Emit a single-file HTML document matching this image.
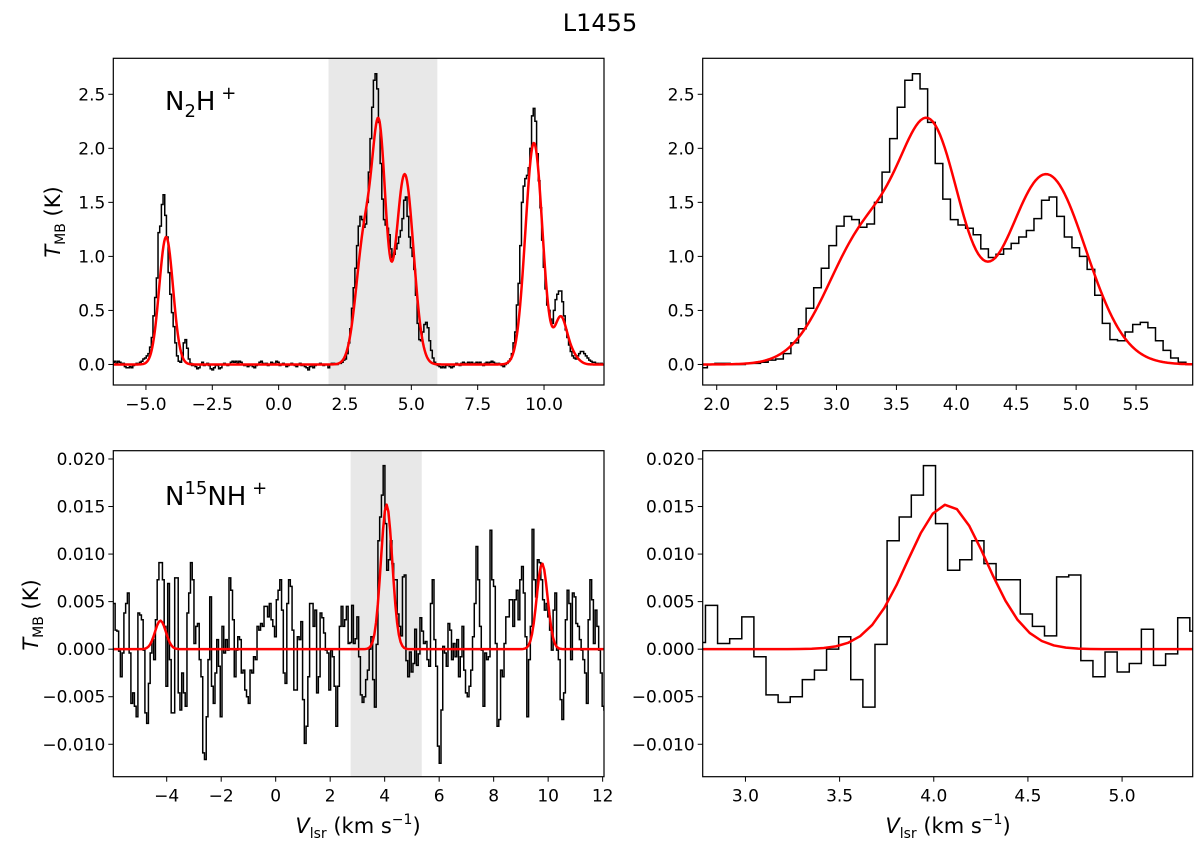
<!DOCTYPE html>
<html><head><meta charset="utf-8"><title>L1455 spectra</title>
<style>
body{margin:0;background:#fff;}
svg{display:block;font-family:"DejaVu Sans","Liberation Sans",sans-serif;}
</style></head>
<body>
<svg id="fig" width="1200" height="842" viewBox="0 0 1200 842" xmlns="http://www.w3.org/2000/svg">
<text x="600" y="31" text-anchor="middle" font-size="24">L1455</text>
</svg>
<script>
// ---- data: N2H+ spectrum (K), channel grid start/step ----
const topV0 = -6.225;
const topDv = 0.0634;
const topT = [
0.02,0.03,0.01,0.03,0.02,0.0,0.01,-0.02,-0.03,-0.03,-0.02,-0.03,-0.01,0.0,0.01,0.0,0.02,0.03,0.05,0.06,0.08,
0.1,0.16,0.25,0.45,0.62,0.8,1.22,1.28,1.48,1.57,1.38,1.18,0.85,0.65,0.48,0.35,0.2,0.08,0.03,0.02,0.08,0.2,0.23,0.15,0.05,
0.01,-0.01,0.0,
-0.02,-0.04,-0.03,0.0,0.02,-0.01,0.0,0.01,-0.01,-0.04,
-0.05,-0.03,0.0,-0.01,-0.04,-0.03,0.0,0.01,0.0,-0.01,
0.0,0.02,0.03,0.02,0.03,0.01,0.03,0.02,0.0,-0.01,
0.0,-0.02,-0.01,0.0,-0.02,-0.03,-0.01,0.0,0.02,0.03,
0.01,0.0,0.01,-0.01,0.0,0.02,0.01,0.0,0.03,0.02,
-0.01,0.0,0.01,0.0,-0.02,-0.01,0.0,0.01,0.0,-0.01,
-0.02,0.0,0.01,-0.01,0.0,-0.02,-0.03,-0.05,-0.02,0.0,
-0.03,-0.01,0.0,0.0,0.01,0.0,-0.01,0.0,0.0,
-0.03,0.0,0.01,0.01,0.0,0.0,0.01,0.01,
0.02,0.04,0.05,0.1,0.2,0.33,0.52,0.71,0.89,1.1,
1.28,1.37,1.34,1.27,1.3,1.5,1.78,2.09,2.38,2.63,
2.69,2.55,2.24,1.86,1.53,1.34,1.29,1.26,1.2,1.07,
0.99,1.02,1.07,1.12,1.18,1.24,1.35,1.52,1.55,1.37,
1.18,1.08,1.0,0.88,0.64,0.38,0.23,0.22,0.3,0.37,
0.39,0.34,0.22,0.13,0.06,0.02,0.0,
-0.01,-0.02,-0.03,-0.02,-0.03,-0.01,0,-0.02,-0.03,-0.02,0.0,0.01,0.0,-0.01,0.01,0.02,0.01,0.0,0.02,0.01,0.02,0.0,0.01,0.02,0.01,0.02,0.0,-0.01,0.01,0.02,0.01,0.02,0.03,0.02,0.01,0.0,0.01,0.0,-0.01,-0.02,0.0,0.01,
0.03,0.05,0.1,0.2,0.3,0.55,0.75,1.1,1.5,1.65,1.72,1.75,1.82,2.0,2.3,2.37,2.25,1.95,1.7,1.45,1.15,0.9,0.7,0.55,0.5,0.42,0.38,0.5,0.6,0.65,0.68,0.68,0.58,0.45,0.32,0.25,0.18,0.12,0.08,0.06,0.05,0.08,0.1,0.12,0.12,0.1,0.08,0.06,0.04,0.03,0.02,0.02,0.01,0.01,0.0,0.01,0.0
];
// ---- data: N15NH+ spectrum (K) ----
const botV0 = -5.925;
const botDv = 0.0643;
const botT = [
0.0048,0.0020,0.0019,-0.0002,-0.0029,-0.0004,0.0038,0.0048,0.0059,-0.0004,
-0.0057,-0.0046,-0.0060,-0.0071,0.0038,0.0036,0.0031,-0.0001,-0.0067,-0.0078,
-0.0036,-0.0004,0.0010,-0.0011,0.0031,0.0073,0.0091,0.0091,0.0073,0.0024,
-0.0039,0.0069,-0.0011,-0.0067,-0.0067,0.0075,0.0075,-0.0046,-0.0064,-0.0025,
-0.0046,-0.0060,0.0038,0.0059,0.0091,0.0073,0.0006,0.0024,0.0027,-0.0011,
-0.0029,-0.0109,-0.0116,-0.0071,-0.0011,0.0055,-0.0039,-0.0057,-0.0025,0.0010,
-0.0018,-0.0071,0.0024,-0.0004,0.0010,-0.0001,0.0075,0.0062,0.0031,-0.0029,
-0.0001,0.0013,0.0010,-0.0025,-0.0022,-0.0043,-0.0050,-0.0057,-0.0022,-0.0025,
-0.0008,-0.0011,0.0024,0.0020,0.0027,0.0024,0.0045,0.0045,0.0034,0.0048,
0.0031,0.0024,0.0013,0.0052,0.0062,0.0073,0.0041,-0.0025,-0.0036,0.0048,
0.0073,0.0066,0.0020,-0.0043,-0.0043,0.0013,0.0010,0.0029,-0.0053,-0.0099,
-0.0081,-0.0029,0.0048,0.0048,0.0024,0.0041,-0.0046,-0.0029,0.0038,0.0033,
0.0017,-0.0001,-0.0004,-0.0043,-0.0001,-0.0008,-0.0039,-0.0081,-0.0039,0.0024,
0.0045,0.0024,0.0031,0.0045,0.0006,
0.0007,0.0046,0.0006,0.0011,0.0034,-0.0008,-0.0048,-0.0056,-0.0050,-0.0032,-0.0022,0.0000,0.0013,-0.0032,-0.0061,0.0005,0.0114,0.0139,0.0162,0.0193,0.0132,0.0083,0.0094,0.0114,0.0090,0.0073,0.0073,0.0037,0.0024,0.0014,0.0076,0.0078,-0.0012,-0.0029,-0.0003,-0.0024,-0.0015,0.0021,-0.0017,-0.0005,0.0033,0.0019,
0.0006,0.0008,-0.0011,-0.0018,0.0048,0.0073,0.0010,-0.0018,-0.0102,-0.0120,
-0.0064,0.0003,-0.0004,-0.0018,0.0027,0.0020,-0.0011,0.0006,-0.0008,0.0010,
-0.0029,-0.0008,0.0024,-0.0022,-0.0046,-0.0050,-0.0039,-0.0022,0.0013,0.0048,
0.0108,0.0073,0.0024,-0.0001,-0.0060,-0.0004,-0.0011,-0.0008,0.0125,0.0073,
0.0066,0.0006,-0.0081,-0.0074,-0.0022,-0.0029,0.0006,0.0034,0.0034,0.0052,
0.0052,0.0024,0.0052,0.0062,0.0031,0.0073,0.0087,0.0059,0.0013,-0.0071,
-0.0011,0.0024,0.0126,0.0073,0.0055,0.0094,0.0091,0.0073,0.0052,0.0041,
0.0048,0.0034,0.0020,-0.0001,0.0041,0.0059,-0.0001,-0.0011,-0.0053,-0.0074,
-0.0046,0.0031,0.0062,0.0048,-0.0011,0.0059,0.0055,0.0027,0.0024,0.0010,
-0.0001,-0.0011,-0.0025,-0.0057,0.0031,0.0073,0.0052,0.0006,0.0041,0.0024,
-0.0001,-0.0025,-0.0060,-0.0064,-0.0011,-0.0022,-0.0011,-0.0004,-0.0015
];
// ---- fit model components ----
const topFitCenters = [-4.24, 3.25, 3.8, 4.75, 9.62, 10.62, 11.0];
const topFitAmps    = [1.18, 1.2, 1.95, 1.76, 2.05, 0.4, 0.1];
const topFitSigmas  = [0.26, 0.32, 0.25, 0.33, 0.32, 0.22, 0.25];
const botFitCenters = [-4.23, 4.07, 9.78];
const botFitAmps    = [0.003, 0.0152, 0.009];
const botFitSigmas  = [0.2, 0.21, 0.2];
// ---- tick labels ----
const topYTicks = [0.0, 0.5, 1.0, 1.5, 2.0, 2.5];
const botYTicks = [-0.010, -0.005, 0.000, 0.005, 0.010, 0.015, 0.020];
const tlXTicks = [-5.0, -2.5, 0.0, 2.5, 5.0, 7.5, 10.0];
const trXTicks = [2.0, 2.5, 3.0, 3.5, 4.0, 4.5, 5.0, 5.5];
const blXTicks = [-4, -2, 0, 2, 4, 6, 8, 10, 12];
const brXTicks = [3.0, 3.5, 4.0, 4.5, 5.0];

const NS = "http://www.w3.org/2000/svg";
const svg = document.getElementById("fig");
function el(tag, attrs, parent){const e=document.createElementNS(NS,tag);for(const k in attrs)e.setAttribute(k,attrs[k]);(parent||svg).appendChild(e);return e;}
function fmt(v,d){const s=v.toFixed(d);return v<0?"\u2212"+s.slice(1):s;}
function model(v,c,a,s){let t=0;for(let i=0;i<c.length;i++)t+=a[i]*Math.exp(-(v-c[i])*(v-c[i])/(2*s[i]*s[i]));return t;}

function panel(o){
  const g=el("g",{});
  
  
  const X=v=>o.x0+(v-o.xmin)/(o.xmax-o.xmin)*(o.x1-o.x0);
  const Y=v=>o.y1-(v-o.ymin)/(o.ymax-o.ymin)*(o.y1-o.y0);
  const cid="clip-"+o.name;
  const cp=el("clipPath",{id:cid},g);
  el("rect",{x:o.x0,y:o.y0,width:o.x1-o.x0,height:o.y1-o.y0},cp);
  const inner=el("g",{"clip-path":"url(#"+cid+")"},g);
  if(o.shade){
    const r=el("rect",{x:X(o.shade[0]),y:o.y0,width:X(o.shade[1])-X(o.shade[0]),height:o.y1-o.y0,fill:"#e8e8e8"},inner);
    
    
  }
  let d="";
  for(let i=0;i<o.T.length;i++){
    const v=o.v0+i*o.dv, xa=X(v-o.dv/2), xb=X(v+o.dv/2), y=Y(o.T[i]);
    d+=(i===0?"M":"L")+xa.toFixed(2)+","+y.toFixed(2)+"L"+xb.toFixed(2)+","+y.toFixed(2);
  }
  const sp=el("path",{d:d,fill:"none",stroke:"#000","stroke-width":1.5,"stroke-linejoin":"miter"},inner);
  
  
  let fd="";const step=o.fitStep;
  for(let v=o.xmin-step,k=0;v<=o.xmax+step;v+=step,k++){
    fd+=(k===0?"M":"L")+X(v).toFixed(2)+","+Y(model(v,o.fc,o.fa,o.fs)).toFixed(2);
  }
  const fp=el("path",{d:fd,fill:"none",stroke:"#ff0000","stroke-width":2.5,"stroke-linejoin":"round"},inner);
  
  
  const fr=el("rect",{x:o.x0,y:o.y0,width:o.x1-o.x0,height:o.y1-o.y0,fill:"none",stroke:"#000","stroke-width":1.2},g);
  
  
  o.yt.forEach(t=>{
    const y=Y(t);
    el("line",{x1:o.x0-5,x2:o.x0,y1:y,y2:y,stroke:"#000","stroke-width":1},g);
    const tx=el("text",{x:o.x0-8,y:y+6,"text-anchor":"end","font-size":17},g);
    tx.textContent=fmt(t,o.yd);
    
    
  });
  o.xt.forEach(t=>{
    const x=X(t);
    el("line",{x1:x,x2:x,y1:o.y1,y2:o.y1+5,stroke:"#000","stroke-width":1},g);
    const tx=el("text",{x:x,y:o.y1+25,"text-anchor":"middle","font-size":17},g);
    tx.textContent=fmt(t,o.xd);
    
    
  });
}
const TY0=58.3,TY1=385,BY0=450.7,BY1=776.7,LX0=113.3,LX1=604,RX0=702.7,RX1=1192.7;
panel({name:"n2h-full-panel",x0:LX0,x1:LX1,y0:TY0,y1:TY1,xmin:-6.23,xmax:12.26,ymin:-0.19,ymax:2.833,T:topT,v0:topV0,dv:topDv,fc:topFitCenters,fa:topFitAmps,fs:topFitSigmas,fitStep:0.03,shade:[1.88,5.98],yt:topYTicks,yd:1,xt:tlXTicks,xd:1});
panel({name:"n2h-zoom-panel",x0:RX0,x1:RX1,y0:TY0,y1:TY1,xmin:1.883,xmax:5.973,ymin:-0.19,ymax:2.833,T:topT,v0:topV0,dv:topDv,fc:topFitCenters,fa:topFitAmps,fs:topFitSigmas,fitStep:0.02,yt:topYTicks,yd:1,xt:trXTicks,xd:1});
panel({name:"n15nh-full-panel",x0:LX0,x1:LX1,y0:BY0,y1:BY1,xmin:-5.96,xmax:12.05,ymin:-0.01341,ymax:0.02087,T:botT,v0:botV0,dv:botDv,fc:botFitCenters,fa:botFitAmps,fs:botFitSigmas,fitStep:0.0643,shade:[2.75,5.36],yt:botYTicks,yd:3,xt:blXTicks,xd:0});
panel({name:"n15nh-zoom-panel",x0:RX0,x1:RX1,y0:BY0,y1:BY1,xmin:2.773,xmax:5.375,ymin:-0.01341,ymax:0.02087,T:botT,v0:botV0,dv:botDv,fc:botFitCenters,fa:botFitAmps,fs:botFitSigmas,fitStep:0.0643,yt:botYTicks,yd:3,xt:brXTicks,xd:1});
</script>
<div style="position:absolute;left:0;top:0;width:1200px;height:842px;pointer-events:none;">
<svg width="1200" height="842" style="position:absolute;left:0;top:0;font-family:'DejaVu Sans','Liberation Sans',sans-serif;">
<text x="165" y="110" font-size="26">N<tspan font-size="18" dy="7">2</tspan><tspan dy="-7">H</tspan><tspan font-size="18" dy="-11"> +</tspan></text>
<text x="165" y="505" font-size="26">N<tspan font-size="18" dy="-11">15</tspan><tspan dy="11">NH</tspan><tspan font-size="18" dy="-11"> +</tspan></text>
<text transform="translate(60,222) rotate(-90)" text-anchor="middle" font-size="21"><tspan font-style="italic">T</tspan><tspan font-size="14" dy="5">MB</tspan><tspan dy="-5"> (K)</tspan></text>
<text transform="translate(38,615) rotate(-90)" text-anchor="middle" font-size="21"><tspan font-style="italic">T</tspan><tspan font-size="14" dy="5">MB</tspan><tspan dy="-5"> (K)</tspan></text>
<text x="358" y="833" text-anchor="middle" font-size="21"><tspan font-style="italic">V</tspan><tspan font-size="14" dy="5">lsr</tspan><tspan dy="-5"> (km s</tspan><tspan font-size="14" dy="-9">−1</tspan><tspan dy="9">)</tspan></text>
<text x="948" y="833" text-anchor="middle" font-size="21"><tspan font-style="italic">V</tspan><tspan font-size="14" dy="5">lsr</tspan><tspan dy="-5"> (km s</tspan><tspan font-size="14" dy="-9">−1</tspan><tspan dy="9">)</tspan></text>
</svg>
</div>
</body></html>
